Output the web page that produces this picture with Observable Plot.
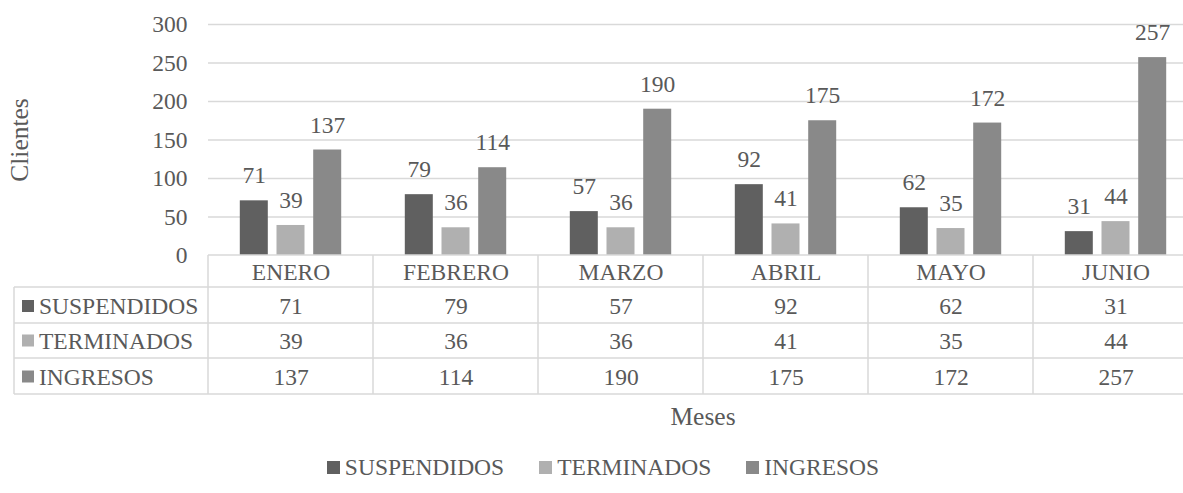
<!DOCTYPE html>
<html><head><meta charset="utf-8">
<script src="https://cdn.jsdelivr.net/npm/d3@7"></script>
<script src="https://cdn.jsdelivr.net/npm/@observablehq/plot@0.6"></script>
<style>
html,body{margin:0;padding:0;background:#fff;overflow:hidden}
body{font-family:"Liberation Serif","Times New Roman",serif;color:#595959}
#legend{display:flex;justify-content:center;align-items:center;padding-top:15px;font-size:23.5px;line-height:24px;gap:35px;margin-left:23px}
#legend .it{display:flex;align-items:center}
#legend .sw{width:13px;height:13px;margin-right:5px}
</style></head><body>
<div id="chart"></div>
<div id="legend"></div>
<script>
const months = ["ENERO","FEBRERO","MARZO","ABRIL","MAYO","JUNIO"];
const series = ["SUSPENDIDOS","TERMINADOS","INGRESOS"];
const suspendidos = [71,79,57,92,62,31];
const terminados = [39,36,36,41,35,44];
const ingresos = [137,114,190,175,172,257];
const yTicks = [0,50,100,150,200,250,300];
const colors = ["#606060","#b0b0b0","#898989"];
const values = [suspendidos, terminados, ingresos];

const data = series.flatMap((s,i) => months.map((m,j) => ({month:m, series:s, value:values[i][j], i})));

const W = 1183, H = 440;
const bandStart = 208, bandW = 165, barW = 28, barStep = 36.7;
const gridColor = "#d9d9d9", textColor = "#595959";
const rowOffsets = [17, 51, 85.5, 121.5];
const lineOffsets = [32, 68, 103, 139];

const marks = [
  Plot.ruleY(yTicks.slice(1), {stroke: gridColor, strokeWidth: 1.5}),
];
series.forEach((s, i) => {
  const sub = data.filter(d => d.series === s);
  const left = bandW/2 - barW/2 + (i-1)*barStep;
  marks.push(Plot.barY(sub, {x: "month", y: "value", fill: colors[i], insetLeft: left, insetRight: bandW - left - barW}));
  marks.push(Plot.text(sub, {x: "month", y: "value", text: d => String(d.value), dx: (i-1)*barStep, dy: -25, fill: textColor, fontSize: 23.5}));
});
// table: month row and value rows
marks.push(Plot.text(months.map(m => ({month: m})), {x: "month", y: () => 0, text: "month", dy: rowOffsets[0], fill: textColor, fontSize: 23.5}));
series.forEach((s, i) => {
  marks.push(Plot.text(data.filter(d => d.series === s), {x: "month", y: () => 0, text: d => String(d.value), dy: rowOffsets[i+1], fill: textColor, fontSize: 23.5}));
});

const chart = Plot.plot({
  width: W, height: H,
  marginTop: 24, marginLeft: bandStart, marginRight: 0, marginBottom: H - 255,
  style: {fontFamily: "Liberation Serif, Times New Roman, serif", fontSize: "23.5px", color: textColor, background: "#fff", overflow: "hidden"},
  x: {domain: months, range: [bandStart, bandStart + bandW*months.length], padding: 0, axis: null},
  y: {domain: [0, 300], ticks: yTicks, tickSize: 0, tickPadding: 21, label: null},
  marks
});
document.getElementById("chart").appendChild(chart);

// table grid drawn from Plot's scales
const xs = chart.scale("x"), ys = chart.scale("y");
const y0 = ys.apply(0);
const xEnd = xs.range[1];
const svg = d3.select(chart);
const g = svg.append("g").attr("stroke", gridColor).attr("stroke-width", 1.5);
g.append("line").attr("x1", xs.range[0]).attr("x2", xEnd).attr("y1", y0).attr("y2", y0);
lineOffsets.forEach(o => g.append("line").attr("x1", 14).attr("x2", xEnd).attr("y1", y0+o).attr("y2", y0+o));
months.forEach(m => { const x = xs.apply(m); g.append("line").attr("x1", x).attr("x2", x).attr("y1", y0).attr("y2", y0+lineOffsets[3]); });
g.append("line").attr("x1", xEnd).attr("x2", xEnd).attr("y1", y0).attr("y2", y0+lineOffsets[3]);
g.append("line").attr("x1", 14).attr("x2", 14).attr("y1", y0+lineOffsets[0]).attr("y2", y0+lineOffsets[3]);
// row headers
series.forEach((s, i) => {
  const cy = y0 + rowOffsets[i+1];
  svg.append("rect").attr("x", 22).attr("y", cy-6).attr("width", 12).attr("height", 12).attr("fill", colors[i]);
  svg.append("text").attr("x", 39).attr("y", cy).attr("dy", "0.35em").attr("text-anchor", "start").attr("fill", textColor).attr("font-size", 23.5).text(s);
});
// axis titles
svg.append("text").attr("transform", `translate(19,140) rotate(-90)`).attr("text-anchor", "middle").attr("dy", "0.35em").attr("fill", textColor).attr("font-size", 25.5).text("Clientes");
svg.append("text").attr("x", (xs.range[0]+xs.range[1])/2).attr("y", 416).attr("text-anchor", "middle").attr("dy", "0.35em").attr("fill", textColor).attr("font-size", 25.5).text("Meses");

// legend
const leg = document.getElementById("legend");
series.forEach((s, i) => {
  const it = document.createElement("div"); it.className = "it";
  const sw = document.createElement("span"); sw.className = "sw"; sw.style.background = colors[i];
  const t = document.createElement("span"); t.textContent = s;
  it.appendChild(sw); it.appendChild(t); leg.appendChild(it);
});
</script>
</body></html>
